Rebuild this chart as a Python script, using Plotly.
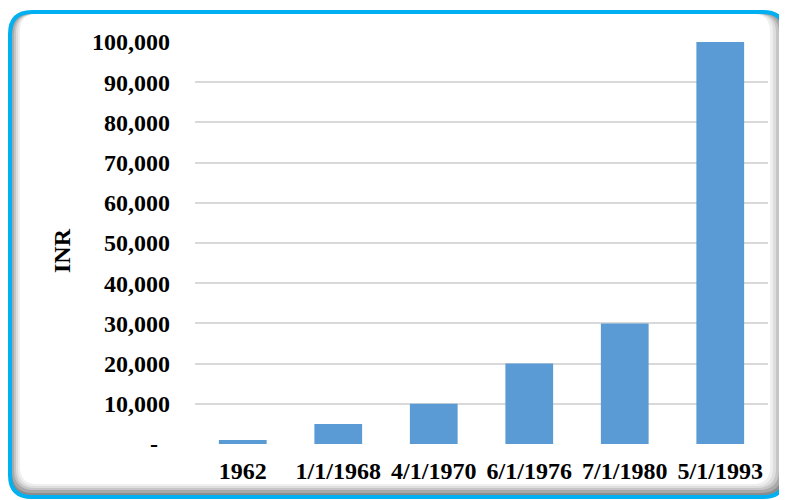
import plotly.graph_objects as go

categories = ["1962", "1/1/1968", "4/1/1970", "6/1/1976", "7/1/1980", "5/1/1993"]
values = [1000, 5000, 10000, 20000, 30000, 100000]
tick_vals = [0, 10000, 20000, 30000, 40000, 50000, 60000, 70000, 80000, 90000, 100000]
tick_text = ["-\u00a0\u00a0", "10,000", "20,000", "30,000", "40,000", "50,000",
             "60,000", "70,000", "80,000", "90,000", "100,000"]

# page body margin offset (figure is drawn 8px in from the window edge)
OFF = 8
W, H = 787 - OFF, 500 - OFF
# target window-pixel positions of plot area
PL, PR, PT, PB = 195, 768, 42, 444
ML, MR, MT, MB = PL - OFF, W - (PR - OFF), PT - OFF, H - (PB - OFF)
PW, PH = W - ML - MR, H - MT - MB

def px(x):
    return (x - OFF - ML) / PW

def py(y):
    return (H - MB - (y - OFF)) / PH

def rrect(x0, y0, x1, y1, r):
    pts = []
    pts.append(f"M{px(x0 + r)},{py(y0)}")
    pts.append(f"L{px(x1 - r)},{py(y0)}")
    pts.append(f"Q{px(x1)},{py(y0)} {px(x1)},{py(y0 + r)}")
    pts.append(f"L{px(x1)},{py(y1 - r)}")
    pts.append(f"Q{px(x1)},{py(y1)} {px(x1 - r)},{py(y1)}")
    pts.append(f"L{px(x0 + r)},{py(y1)}")
    pts.append(f"Q{px(x0)},{py(y1)} {px(x0)},{py(y1 - r)}")
    pts.append(f"L{px(x0)},{py(y0 + r)}")
    pts.append(f"Q{px(x0)},{py(y0)} {px(x0 + r)},{py(y0)}")
    pts.append("Z")
    return " ".join(pts)

shapes = []
layers = [
    ((10, 12, 785, 497), 22, "#8c8c8c"),
    ((12, 13, 782, 493), 21, "#a9a9a9"),
    ((14, 14, 779, 490), 20, "#c6c6c6"),
    ((16, 14, 776, 488), 19, "#dedede"),
    ((18, 14, 773, 486), 18, "#efefef"),
    ((20, 14, 770, 484), 17, "#ffffff"),
]
for (x0, y0, x1, y1), r, c in layers:
    shapes.append(dict(type="path", xref="paper", yref="paper", path=rrect(x0, y0, x1, y1, r),
                       fillcolor=c, line=dict(width=0), layer="below"))
shapes.append(dict(type="path", xref="paper", yref="paper", path=rrect(10, 12, 785, 497, 22),
                   fillcolor="rgba(0,0,0,0)", line=dict(color="#00b0f0", width=4), layer="below"))

font_family = "Liberation Serif"
FS = 24

fig = go.Figure(go.Bar(
    x=categories, y=values,
    marker=dict(color="#5b9bd5", line=dict(width=0)),
))

fig.update_layout(
    width=W, height=H,
    margin=dict(l=ML, r=MR, t=MT, b=MB),
    paper_bgcolor="white",
    plot_bgcolor="rgba(0,0,0,0)",
    bargap=0.5,
    showlegend=False,
    shapes=shapes,
    font=dict(family=font_family, size=FS, color="black"),
    xaxis=dict(
        showgrid=False, zeroline=False, showline=False, ticks="",
        tickfont=dict(family=font_family, size=FS, color="black", weight="bold"),
        ticklabelstandoff=10,
    ),
    yaxis=dict(
        range=[0, 100000], tickvals=tick_vals, ticktext=tick_text,
        showgrid=True, gridcolor="#d9d9d9", gridwidth=1.5,
        zeroline=False, showline=False, ticks="",
        tickfont=dict(family=font_family, size=FS, color="black", weight="bold"),
        ticklabelstandoff=24,
    ),
    annotations=[dict(
        text="INR", xref="paper", yref="paper", x=px(62), y=py(251),
        showarrow=False, textangle=-90,
        font=dict(family=font_family, size=FS, color="black", weight="bold"),
        xanchor="center", yanchor="middle",
    )],
)

fig.write_html("out.html")
